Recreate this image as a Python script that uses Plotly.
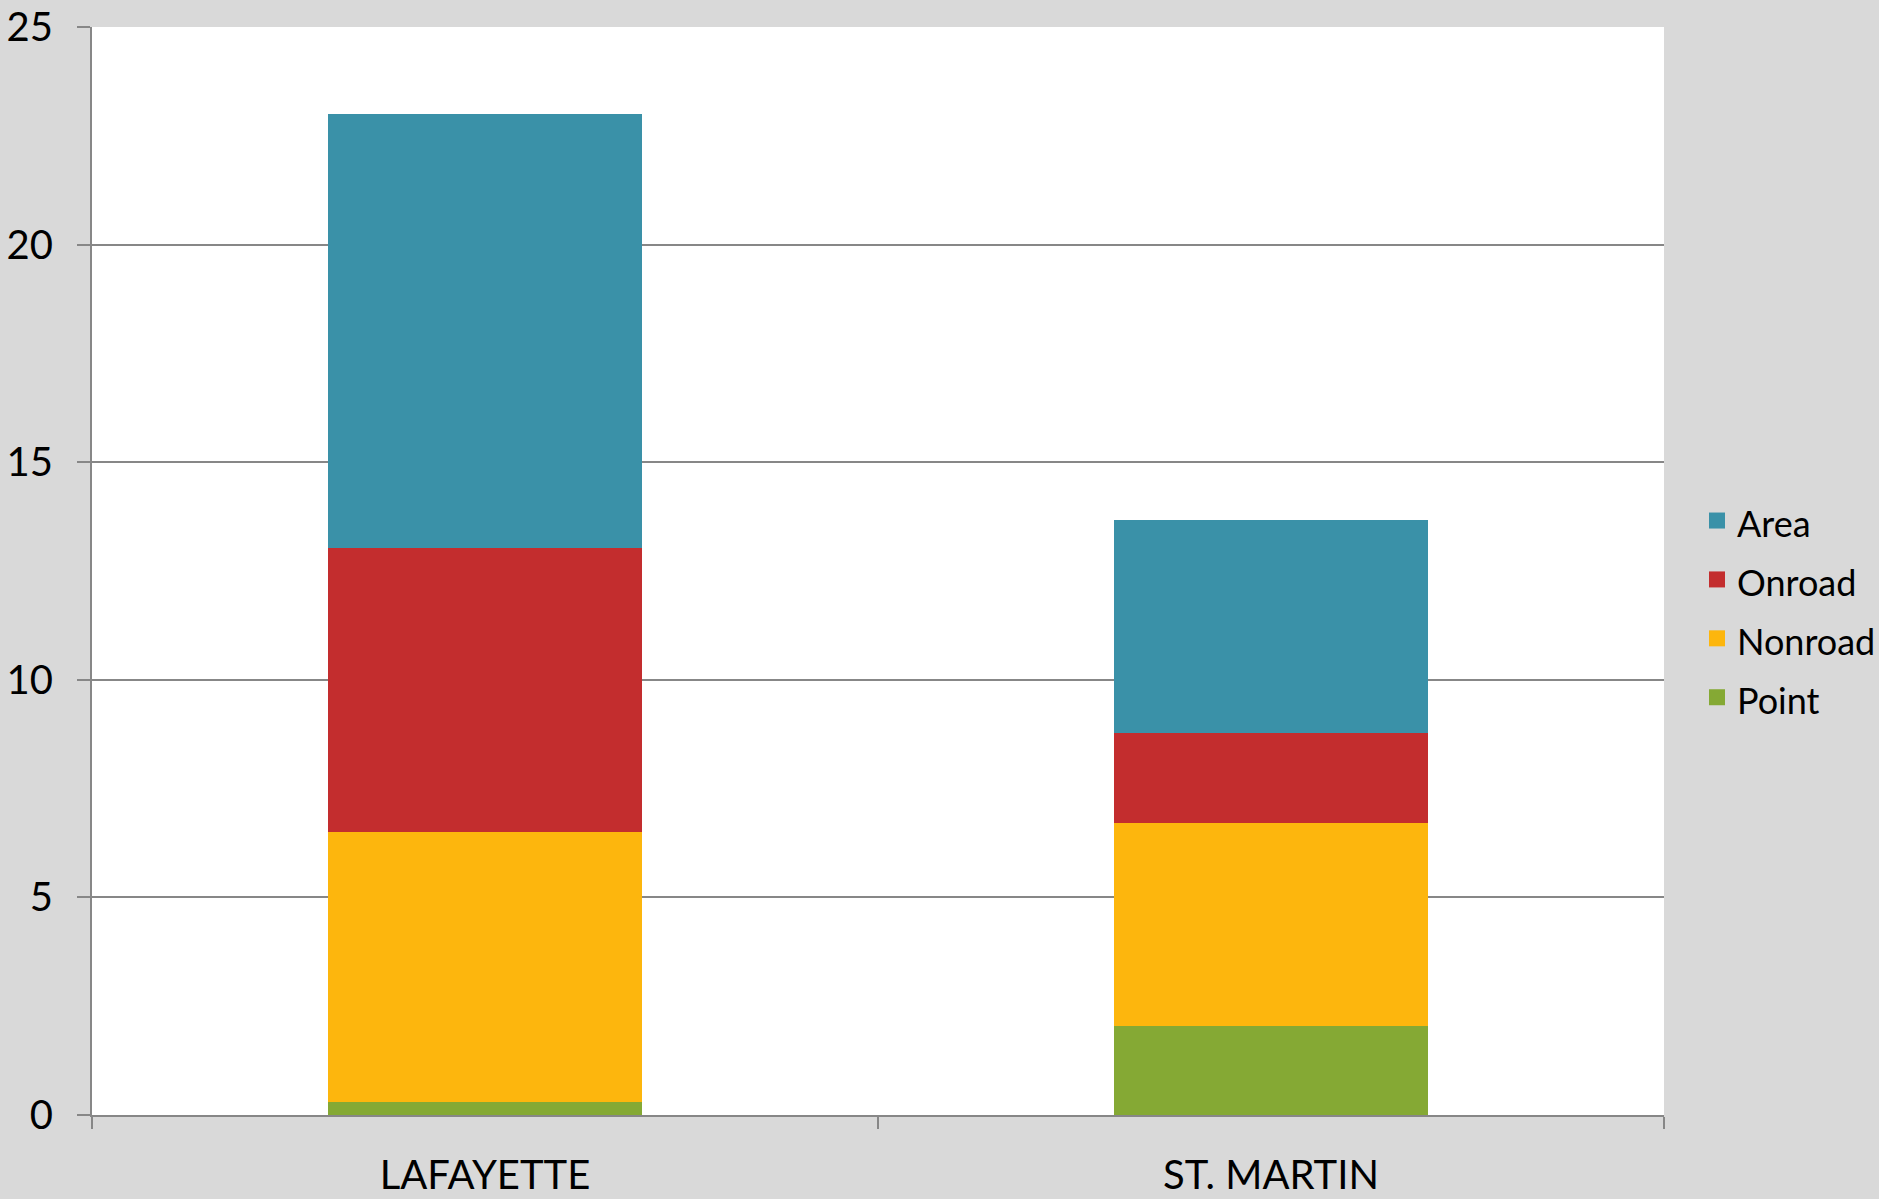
import plotly.graph_objects as go

categories = ["LAFAYETTE", "ST. MARTIN"]
series_names = ["Point", "Nonroad", "Onroad", "Area"]
point = [0.30, 2.05]
nonroad = [6.21, 4.66]
onroad = [6.52, 2.06]
area = [9.97, 4.90]
colors = {"Point": "#85A934", "Nonroad": "#FDB60D", "Onroad": "#C32D2E", "Area": "#3A91A8"}
y_ticks = [0, 5, 10, 15, 20, 25]

values = {"Point": point, "Nonroad": nonroad, "Onroad": onroad, "Area": area}

fig = go.Figure()
for name in series_names:
    fig.add_trace(go.Bar(
        x=categories, y=values[name], name=name,
        legendgroup=name, showlegend=False,
        marker=dict(color=colors[name], line=dict(width=0)),
        hovertemplate=name + ": %{y}<extra></extra>",
    ))
# legend entries (square swatches)
for name in series_names:
    fig.add_trace(go.Scatter(
        x=[None], y=[None], mode="markers",
        name=f'<span style="font-size:36px">{name}</span>',
        legendgroup=name, showlegend=True,
        marker=dict(symbol="square", size=16, color=colors[name]),
        hoverinfo="skip",
    ))

font_family = "Lato, 'Open Sans', sans-serif"
fig.update_layout(
    barmode="stack",
    bargap=0.6,
    width=1879, height=1199,
    paper_bgcolor="#D9D9D9",
    plot_bgcolor="#FFFFFF",
    margin=dict(l=92, r=215, t=27, b=84, pad=0, autoexpand=False),
    font=dict(family=font_family, size=40, color="#000000"),
    showlegend=True,
    legend=dict(
        traceorder="reversed",
        x=1.021, xanchor="left",
        y=0.465, yanchor="middle",
        bgcolor="rgba(0,0,0,0)",
        font=dict(size=43, family=font_family),
        itemwidth=30,
        tracegroupgap=0,
    ),
    xaxis=dict(
        type="category",
        automargin=False,
        showline=True, linecolor="#878787", linewidth=2,
        ticks="outside", tickson="boundaries", ticklen=12, tickcolor="#878787", tickwidth=2,
        showgrid=False,
        tickfont=dict(size=40, family=font_family),
        ticklabelstandoff=24,
    ),
    yaxis=dict(
        range=[0, 25],
        automargin=False,
        tickvals=y_ticks,
        showline=True, linecolor="#878787", linewidth=2,
        ticks="outside", ticklen=13, tickcolor="#878787", tickwidth=2,
        showgrid=True, gridcolor="#878787", gridwidth=1.5,
        zeroline=False,
        tickfont=dict(size=40, family=font_family),
        ticklabelstandoff=16,
    ),
)

fig.write_html(
    "out.html",
    config={"displayModeBar": False},
    post_script="document.body.style.margin='0';document.body.style.overflow='hidden';",
)
